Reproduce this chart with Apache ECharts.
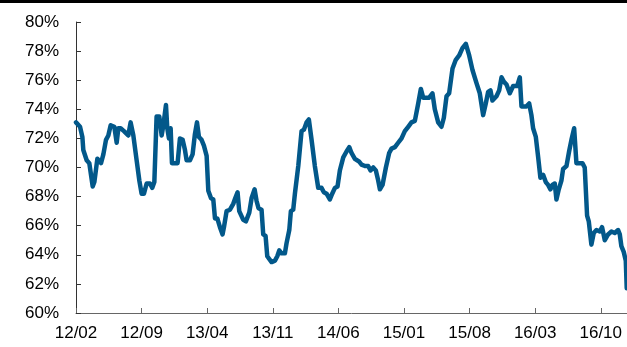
<!DOCTYPE html>
<html>
<head>
<meta charset="utf-8">
<script src="https://cdn.jsdelivr.net/npm/echarts@6/dist/echarts.min.js"></script>
<style>
  html, body { margin: 0; padding: 0; background: #fff; }
  #main { width: 627px; height: 347px; }
</style>
</head>
<body>
<div id="main"></div>
<script>
// months counted from 2012-02
let monthIdx = [
  0.0, 0.43, 0.68, 0.78, 1.14, 1.42, 1.56, 1.78, 1.96, 2.28, 2.49, 2.67, 2.92, 3.2, 3.45, 3.7,
  4.09, 4.34, 4.52, 4.76, 5.12, 5.58, 5.83, 6.12, 6.47, 6.76, 7.0, 7.25, 7.54, 7.89, 8.14, 8.36,
  8.6, 8.89, 9.14, 9.32, 9.6, 9.74, 9.92, 10.1, 10.24, 10.56, 10.84, 11.09, 11.38, 11.63, 11.8,
  12.16, 12.44, 12.69, 12.91, 13.12, 13.4, 13.65, 13.94, 14.12, 14.4, 14.65, 14.83, 15.08, 15.36,
  15.64, 15.79, 16.07, 16.43, 16.78, 17.0, 17.24, 17.42, 17.6, 17.85, 18.13, 18.49, 18.74, 19.06,
  19.27, 19.48, 19.8, 19.98, 20.23, 20.41, 20.62, 20.87, 21.23, 21.48, 21.69, 21.94, 22.29, 22.47,
  22.76, 22.93, 23.18, 23.36, 23.72, 24.07, 24.32, 24.6, 24.85, 25.14, 25.49, 25.85,
  26.2, 26.45, 26.74, 27.09, 27.34, 27.63, 27.91, 28.16, 28.52, 28.87, 29.16, 29.4, 29.76, 30.22,
  30.47, 30.83, 31.18, 31.43, 31.72, 32.0, 32.25, 32.43, 32.71, 33.07, 33.42, 33.67, 34.03, 34.38,
  34.74, 35.09, 35.45, 35.8, 36.16, 36.52, 36.8, 37.05, 37.33, 37.69, 38.04, 38.29, 38.65, 39.0,
  39.25, 39.54, 39.82, 40.18, 40.53, 40.89, 41.24, 41.6, 41.96, 42.31, 42.74, 43.09, 43.45, 43.73,
  43.98, 44.23, 44.44, 44.87, 45.16, 45.41, 45.65, 45.94, 46.29, 46.65, 47.08, 47.36, 47.54, 47.72,
  48.07, 48.36, 48.6, 48.78, 49.07, 49.32, 49.56, 49.85, 50.13, 50.38, 50.63, 50.84, 51.09, 51.27,
  51.52, 51.8, 51.98, 52.34, 52.62, 52.87, 53.16, 53.4, 53.69, 54.04, 54.29, 54.54, 54.72, 55.0,
  55.25, 55.54, 55.89, 56.14, 56.43, 56.78, 57.14, 57.49, 57.85, 58.03, 58.2, 58.45, 58.67, 58.77
];

let ratio = [
  73.1, 72.8, 72.1, 71.2, 70.5, 70.3, 70.4, 68.7, 69.0, 70.6, 70.5, 70.3, 70.9, 71.9, 72.2, 72.9,
  72.8, 71.7, 72.7, 72.7, 72.5, 72.2, 73.1, 72.2, 70.5, 69.1, 68.2, 68.2, 68.9, 68.9, 68.6, 69.0,
  73.5, 73.5, 72.2, 72.9, 74.3, 72.7, 72.0, 72.7, 70.3, 70.3, 70.3, 72.0, 71.9, 71.2, 70.5,
  70.5, 70.9, 72.3, 73.1, 72.1, 71.9, 71.5, 70.8, 68.4, 67.9, 67.8, 66.5, 66.5, 65.9,
  65.4, 65.9, 67.0, 67.1, 67.5, 67.9, 68.3, 67.0, 66.9, 66.4, 66.3, 66.9, 67.9, 68.5,
  67.7, 67.2, 67.1, 65.4, 65.3, 63.9, 63.9, 63.5, 63.6, 63.9, 64.3, 64.1, 64.1, 64.8,
  65.7, 67.0, 67.1, 68.2, 70.1, 72.5, 72.6, 73.1, 73.3, 71.9, 70.1, 68.6,
  68.6, 68.3, 68.2, 67.8, 68.2, 68.6, 68.7, 69.8, 70.7, 71.1, 71.4, 71.0, 70.6, 70.4,
  70.2, 70.1, 70.1, 69.8, 70.0, 69.8, 69.1, 68.5, 68.8, 70.0, 71.0, 71.3, 71.4, 71.7,
  72.0, 72.5, 72.8, 73.1, 73.2, 74.4, 75.4, 74.8, 74.8, 74.8, 75.1, 74.0, 73.1, 72.8,
  73.4, 74.9, 75.1, 76.8, 77.4, 77.7, 78.2, 78.5, 77.7, 76.7, 75.8, 75.1, 73.6, 74.4,
  75.2, 75.3, 74.6, 74.9, 75.3, 76.2, 75.9, 75.7, 75.1, 75.6, 75.6, 76.2, 74.2, 74.1,
  74.2, 74.4, 73.6, 72.7, 72.1, 70.7, 69.3, 69.5, 69.0, 68.8, 68.5, 68.8, 68.9, 67.8,
  68.5, 69.1, 69.9, 70.1, 71.1, 71.9, 72.7, 70.3, 70.3, 70.3, 70.0, 66.7, 66.3, 64.7,
  65.5, 65.7, 65.6, 65.9, 65.0, 65.4, 65.6, 65.5, 65.7, 65.4, 64.6, 64.2, 63.6, 61.7
];

function monthLabel(m) {
  let total = 2012 * 12 + 1 + Math.round(m);
  let yy = Math.floor(total / 12) % 100;
  let mm = total % 12 + 1;
  return String(yy).padStart(2, '0') + '/' + String(mm).padStart(2, '0');
}

let myChart = echarts.init(document.getElementById('main'));

let option = {
  animation: false,
  backgroundColor: '#fff',
  graphic: [{
    type: 'rect',
    shape: { x: 0, y: 0, width: 627, height: 3 },
    style: { fill: '#000' }
  }],
  grid: { left: 76, right: 0, top: 22, bottom: 34 },
  xAxis: {
    type: 'value',
    min: 0,
    max: 58.8,
    interval: 7,
    axisLine: { lineStyle: { color: '#666', width: 1 } },
    axisTick: { inside: true, length: 5, lineStyle: { color: '#666' } },
    splitLine: { show: false },
    axisLabel: {
      color: '#000',
      fontFamily: 'Liberation Sans',
      fontSize: 17,
      margin: 12,
      showMaxLabel: false,
      formatter: monthLabel
    }
  },
  yAxis: {
    type: 'value',
    min: 60,
    max: 80,
    interval: 2,
    axisLine: { show: true, lineStyle: { color: '#333', width: 1 } },
    axisTick: { show: true, inside: true, length: 5, lineStyle: { color: '#333' } },
    splitLine: { show: false },
    axisLabel: {
      color: '#000',
      fontFamily: 'Liberation Sans',
      fontSize: 17,
      margin: 17,
      formatter: '{value}%'
    }
  },
  series: [{
    type: 'line',
    data: monthIdx.map((m, i) => [m, ratio[i]]),
    showSymbol: false,
    smooth: false,
    lineStyle: { color: '#02588A', width: 4.5, join: 'round', cap: 'round' }
  }]
};

myChart.setOption(option);
</script>
</body>
</html>
